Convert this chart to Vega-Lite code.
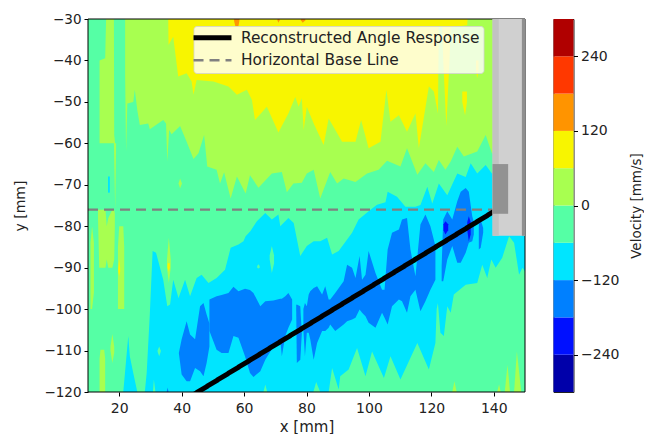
{"$schema":"https://vega.github.io/schema/vega-lite/v6.json","padding":{"left":13,"top":12,"right":0,"bottom":0},"spacing":26.5,"config":{"font":"DejaVu Sans","view":{"stroke":null},"axis":{"grid":false,"domain":false,"tickColor":"#000","tickSize":4,"tickWidth":1,"labelColor":"#222","titleColor":"#222","titleFontWeight":"normal","labelFontSize":13.5,"titleFontSize":14,"labelPadding":3}},
"datasets":{
"contours":[
{"r":"bg","v":"-60","x":10,"y":-30,"y2":-120},{"r":"bg","v":"-60","x":150,"y":-30,"y2":-120},
{"r":"lime1","v":"0","x":13.7,"y":-40,"y2":-60},{"r":"lime1","v":"0","x":15.5,"y":-39.5,"y2":-60},{"r":"lime1","v":"0","x":15.8,"y":-30,"y2":-60},{"r":"lime1","v":"0","x":18.3,"y":-30,"y2":-60},{"r":"lime1","v":"0","x":18.4,"y":-58,"y2":-64},{"r":"lime1","v":"0","x":18.7,"y":-60,"y2":-76},{"r":"lime1","v":"0","x":19,"y":-60,"y2":-61},
{"r":"lime2","v":"0","x":21.9,"y":-30,"y2":-43.9},{"r":"lime2","v":"0","x":22.2,"y":-30,"y2":-62},{"r":"lime2","v":"0","x":22.6,"y":-30,"y2":-50.4},{"r":"lime2","v":"0","x":24.5,"y":-30,"y2":-50},{"r":"lime2","v":"0","x":25,"y":-30,"y2":-47.1},{"r":"lime2","v":"0","x":25.8,"y":-30,"y2":-52},{"r":"lime2","v":"0","x":26.6,"y":-30,"y2":-55.6},{"r":"lime2","v":"0","x":29.3,"y":-30,"y2":-55.2},{"r":"lime2","v":"0","x":29.8,"y":-30,"y2":-56.6},{"r":"lime2","v":"0","x":34.1,"y":-30,"y2":-54.4},{"r":"lime2","v":"0","x":35,"y":-30,"y2":-55.2},{"r":"lime2","v":"0","x":35.4,"y":-30,"y2":-64.4},{"r":"lime2","v":"0","x":36,"y":-30,"y2":-56.8},{"r":"lime2","v":"0","x":36.8,"y":-30,"y2":-57.8},{"r":"lime2","v":"0","x":39.5,"y":-30,"y2":-55.8},{"r":"lime2","v":"0","x":41.6,"y":-30,"y2":-59.6},{"r":"lime2","v":"0","x":43.8,"y":-30,"y2":-63.8},{"r":"lime2","v":"0","x":45.4,"y":-30,"y2":-62.4},{"r":"lime2","v":"0","x":47.2,"y":-30,"y2":-58},{"r":"lime2","v":"0","x":48.2,"y":-30,"y2":-65.6},{"r":"lime2","v":"0","x":51.2,"y":-30,"y2":-66.4},{"r":"lime2","v":"0","x":52.3,"y":-30,"y2":-69.7},{"r":"lime2","v":"0","x":53.6,"y":-30,"y2":-67},{"r":"lime2","v":"0","x":55.7,"y":-30,"y2":-73.3},{"r":"lime2","v":"0","x":57.7,"y":-30,"y2":-68},{"r":"lime2","v":"0","x":60.5,"y":-30,"y2":-72.1},{"r":"lime2","v":"0","x":61.9,"y":-30,"y2":-67.7},{"r":"lime2","v":"0","x":64.6,"y":-30,"y2":-70.7},{"r":"lime2","v":"0","x":68.9,"y":-30,"y2":-67.3},{"r":"lime2","v":"0","x":72.1,"y":-30,"y2":-66.9},{"r":"lime2","v":"0","x":73.7,"y":-30,"y2":-71.8},{"r":"lime2","v":"0","x":75.8,"y":-30,"y2":-69.7},{"r":"lime2","v":"0","x":78.5,"y":-30,"y2":-69.5},{"r":"lime2","v":"0","x":80.1,"y":-30,"y2":-67.3},{"r":"lime2","v":"0","x":82.3,"y":-30,"y2":-66.4},{"r":"lime2","v":"0","x":84.4,"y":-30,"y2":-73.3},{"r":"lime2","v":"0","x":87.6,"y":-30,"y2":-66.9},{"r":"lime2","v":"0","x":89.8,"y":-30,"y2":-69.7},{"r":"lime2","v":"0","x":91.9,"y":-30,"y2":-68.5},{"r":"lime2","v":"0","x":95.7,"y":-30,"y2":-69.3},{"r":"lime2","v":"0","x":99.4,"y":-30,"y2":-67.3},{"r":"lime2","v":"0","x":103.1,"y":-30,"y2":-66.4},{"r":"lime2","v":"0","x":105.8,"y":-30,"y2":-64.2},{"r":"lime2","v":"0","x":110.1,"y":-30,"y2":-65.6},{"r":"lime2","v":"0","x":112.2,"y":-30,"y2":-61.2},{"r":"lime2","v":"0","x":115.5,"y":-30,"y2":-67.6},{"r":"lime2","v":"0","x":118.1,"y":-30,"y2":-64.8},{"r":"lime2","v":"0","x":120.8,"y":-30,"y2":-66.9},{"r":"lime2","v":"0","x":122.4,"y":-30,"y2":-64},{"r":"lime2","v":"0","x":124.5,"y":-30,"y2":-66.4},{"r":"lime2","v":"0","x":126.2,"y":-30,"y2":-64.4},{"r":"lime2","v":"0","x":128.3,"y":-30,"y2":-60.8},{"r":"lime2","v":"0","x":130.4,"y":-30,"y2":-63.2},{"r":"lime2","v":"0","x":134.7,"y":-30,"y2":-62},{"r":"lime2","v":"0","x":137.4,"y":-30,"y2":-58},{"r":"lime2","v":"0","x":139.4,"y":-30,"y2":-62.4},{"r":"lime2","v":"0","x":150,"y":-30,"y2":-65},
{"r":"yel1","v":"60","x":35.7,"y":-30,"y2":-30},{"r":"yel1","v":"60","x":35.8,"y":-30,"y2":-36.3},{"r":"yel1","v":"60","x":37.3,"y":-30,"y2":-34.3},{"r":"yel1","v":"60","x":38.9,"y":-30,"y2":-43.9},{"r":"yel1","v":"60","x":41.6,"y":-30,"y2":-43.1},{"r":"yel1","v":"60","x":43.2,"y":-30,"y2":-45.1},{"r":"yel1","v":"60","x":43.8,"y":-30,"y2":-48.3},{"r":"yel1","v":"60","x":44.8,"y":-30,"y2":-44.7},{"r":"yel1","v":"60","x":50.2,"y":-30,"y2":-45.1},{"r":"yel1","v":"60","x":55,"y":-30,"y2":-46.3},{"r":"yel1","v":"60","x":57.7,"y":-30,"y2":-48.3},{"r":"yel1","v":"60","x":60.9,"y":-30,"y2":-47.1},{"r":"yel1","v":"60","x":62.5,"y":-30,"y2":-49.5},{"r":"yel1","v":"60","x":63.5,"y":-30,"y2":-54.4},{"r":"yel1","v":"60","x":67.3,"y":-30,"y2":-51.2},{"r":"yel1","v":"60","x":71,"y":-30,"y2":-57.4},{"r":"yel1","v":"60","x":74.2,"y":-30,"y2":-52.8},{"r":"yel1","v":"60","x":76.4,"y":-30,"y2":-48.8},{"r":"yel1","v":"60","x":77.5,"y":-30,"y2":-51.2},{"r":"yel1","v":"60","x":78.5,"y":-30,"y2":-49.1},{"r":"yel1","v":"60","x":79.1,"y":-30,"y2":-56.8},{"r":"yel1","v":"60","x":80.1,"y":-30,"y2":-51.2},{"r":"yel1","v":"60","x":82.3,"y":-30,"y2":-55.2},{"r":"yel1","v":"60","x":85.5,"y":-30,"y2":-60.4},{"r":"yel1","v":"60","x":87.1,"y":-30,"y2":-54},{"r":"yel1","v":"60","x":91.4,"y":-30,"y2":-59.6},{"r":"yel1","v":"60","x":95.7,"y":-30,"y2":-59.6},{"r":"yel1","v":"60","x":97.5,"y":-30,"y2":-54.4},{"r":"yel1","v":"60","x":99.9,"y":-30,"y2":-61.2},{"r":"yel1","v":"60","x":103.7,"y":-30,"y2":-59.6},{"r":"yel1","v":"60","x":105.6,"y":-30,"y2":-47.1},{"r":"yel1","v":"60","x":106.9,"y":-30,"y2":-54.8},{"r":"yel1","v":"60","x":109.6,"y":-30,"y2":-53.2},{"r":"yel1","v":"60","x":112.2,"y":-30,"y2":-57.2},{"r":"yel1","v":"60","x":114.9,"y":-30,"y2":-52.8},{"r":"yel1","v":"60","x":116,"y":-30,"y2":-61.2},{"r":"yel1","v":"60","x":119.2,"y":-30,"y2":-46.3},{"r":"yel1","v":"60","x":120.8,"y":-30,"y2":-47.5},{"r":"yel1","v":"60","x":122.1,"y":-30,"y2":-52.8},{"r":"yel1","v":"60","x":122.4,"y":-30,"y2":-32},{"r":"yel1","v":"60","x":123.5,"y":-30,"y2":-32},{"r":"yel1","v":"60","x":123.8,"y":-30,"y2":-40},{"r":"yel1","v":"60","x":124.8,"y":-30,"y2":-55.9},{"r":"yel1","v":"60","x":125.8,"y":-30,"y2":-40},{"r":"yel1","v":"60","x":126.2,"y":-30,"y2":-32},{"r":"yel1","v":"60","x":131.5,"y":-30,"y2":-31.5},{"r":"yel1","v":"60","x":131.6,"y":-30,"y2":-30},
{"r":"yel2","v":"60","x":129.9,"y":-47.5,"y2":-50},{"r":"yel2","v":"60","x":130.8,"y":-47.5,"y2":-53.2},{"r":"yel2","v":"60","x":131.4,"y":-47.5,"y2":-50},
{"r":"yel3","v":"60","x":134.3,"y":-40,"y2":-42.5},{"r":"yel3","v":"60","x":134.7,"y":-40,"y2":-44.3},{"r":"yel3","v":"60","x":135.1,"y":-40,"y2":-42.5},
{"r":"or1","v":"120","x":56.8,"y":-30,"y2":-30.5},{"r":"or1","v":"120","x":57.2,"y":-30,"y2":-31.7},{"r":"or1","v":"120","x":58.2,"y":-30,"y2":-31.7},{"r":"or1","v":"120","x":58.5,"y":-30,"y2":-30.5},
{"r":"or2","v":"120","x":70.7,"y":-30,"y2":-30.3},{"r":"or2","v":"120","x":71,"y":-30,"y2":-30.9},{"r":"or2","v":"120","x":71.4,"y":-30,"y2":-30.3},
{"r":"or3","v":"120","x":78.2,"y":-30,"y2":-30.3},{"r":"or3","v":"120","x":78.8,"y":-30,"y2":-30.9},{"r":"or3","v":"120","x":79.6,"y":-30,"y2":-30.3},
{"r":"c0","v":"-120","x":16.4,"y":-68,"y2":-71.9},{"r":"c0","v":"-120","x":17,"y":-68,"y2":-71.9},
{"r":"g0","v":"0","x":39,"y":-69.7,"y2":-69.7},{"r":"g0","v":"0","x":39.5,"y":-68.5,"y2":-70.9},{"r":"g0","v":"0","x":40.1,"y":-69.7,"y2":-69.7},
{"r":"c1","v":"-120","x":21.3,"y":-120,"y2":-120},{"r":"c1","v":"-120","x":22.9,"y":-106.5,"y2":-120},{"r":"c1","v":"-120","x":23.4,"y":-111.4,"y2":-120},{"r":"c1","v":"-120","x":24.5,"y":-115.4,"y2":-120},{"r":"c1","v":"-120","x":25.8,"y":-120,"y2":-120},
{"r":"c2","v":"-120","x":28.2,"y":-120,"y2":-120},{"r":"c2","v":"-120","x":28.8,"y":-115.4,"y2":-120},{"r":"c2","v":"-120","x":29.8,"y":-101.3,"y2":-120},{"r":"c2","v":"-120","x":30.7,"y":-86,"y2":-120},{"r":"c2","v":"-120","x":31.8,"y":-86.4,"y2":-120},{"r":"c2","v":"-120","x":34.1,"y":-92.9,"y2":-120},{"r":"c2","v":"-120","x":35.4,"y":-99.3,"y2":-120},{"r":"c2","v":"-120","x":36.3,"y":-98.9,"y2":-120},{"r":"c2","v":"-120","x":37.3,"y":-92.9,"y2":-120},{"r":"c2","v":"-120","x":39,"y":-97.3,"y2":-120},{"r":"c2","v":"-120","x":41.1,"y":-92.9,"y2":-120},{"r":"c2","v":"-120","x":42.7,"y":-96.9,"y2":-120},{"r":"c2","v":"-120","x":44.8,"y":-92.5,"y2":-120},{"r":"c2","v":"-120","x":46.4,"y":-91.7,"y2":-120},{"r":"c2","v":"-120","x":48.6,"y":-93.7,"y2":-120},{"r":"c2","v":"-120","x":51.2,"y":-92.5,"y2":-120},{"r":"c2","v":"-120","x":53.9,"y":-90.5,"y2":-120},{"r":"c2","v":"-120","x":55.7,"y":-85.2,"y2":-120},{"r":"c2","v":"-120","x":58.2,"y":-84.4,"y2":-120},{"r":"c2","v":"-120","x":59.8,"y":-83.6,"y2":-120},{"r":"c2","v":"-120","x":60.5,"y":-82.4,"y2":-120},{"r":"c2","v":"-120","x":62,"y":-81.2,"y2":-120},{"r":"c2","v":"-120","x":64.1,"y":-78.8,"y2":-120},{"r":"c2","v":"-120","x":66.8,"y":-76.8,"y2":-120},{"r":"c2","v":"-120","x":68.9,"y":-78.4,"y2":-120},{"r":"c2","v":"-120","x":71,"y":-77.2,"y2":-120},{"r":"c2","v":"-120","x":71.6,"y":-80,"y2":-120},{"r":"c2","v":"-120","x":74.2,"y":-78,"y2":-120},{"r":"c2","v":"-120","x":75.9,"y":-79.2,"y2":-120},{"r":"c2","v":"-120","x":78,"y":-87.2,"y2":-120},{"r":"c2","v":"-120","x":80.1,"y":-84.8,"y2":-120},{"r":"c2","v":"-120","x":82.3,"y":-83.6,"y2":-120},{"r":"c2","v":"-120","x":84.4,"y":-83.6,"y2":-120},{"r":"c2","v":"-120","x":86.6,"y":-82.8,"y2":-120},{"r":"c2","v":"-120","x":88.2,"y":-86.8,"y2":-120},{"r":"c2","v":"-120","x":90.3,"y":-86,"y2":-120},{"r":"c2","v":"-120","x":94.6,"y":-81.6,"y2":-120},{"r":"c2","v":"-120","x":96.7,"y":-78.4,"y2":-120},{"r":"c2","v":"-120","x":100.5,"y":-76,"y2":-120},{"r":"c2","v":"-120","x":102.6,"y":-74.8,"y2":-120},{"r":"c2","v":"-120","x":105.3,"y":-74.2,"y2":-120},{"r":"c2","v":"-120","x":106,"y":-71.7,"y2":-120},{"r":"c2","v":"-120","x":109,"y":-72.9,"y2":-120},{"r":"c2","v":"-120","x":111.7,"y":-75.3,"y2":-120},{"r":"c2","v":"-120","x":114.9,"y":-75.3,"y2":-120},{"r":"c2","v":"-120","x":116.5,"y":-74.9,"y2":-120},{"r":"c2","v":"-120","x":118.7,"y":-70.5,"y2":-120},{"r":"c2","v":"-120","x":120.3,"y":-74.5,"y2":-120},{"r":"c2","v":"-120","x":122.4,"y":-69.7,"y2":-120},{"r":"c2","v":"-120","x":125.1,"y":-72.5,"y2":-120},{"r":"c2","v":"-120","x":128.3,"y":-67.3,"y2":-120},{"r":"c2","v":"-120","x":131,"y":-68.1,"y2":-120},{"r":"c2","v":"-120","x":132.6,"y":-64.8,"y2":-120},{"r":"c2","v":"-120","x":134.7,"y":-67.3,"y2":-120},{"r":"c2","v":"-120","x":137.4,"y":-65.2,"y2":-120},{"r":"c2","v":"-120","x":139.4,"y":-67.3,"y2":-120},{"r":"c2","v":"-120","x":150,"y":-67,"y2":-120},
{"r":"b1","v":"-180","x":39.1,"y":-110.6,"y2":-110.6},{"r":"b1","v":"-180","x":40,"y":-107.3,"y2":-115.8},{"r":"b1","v":"-180","x":41.6,"y":-102.9,"y2":-117.4},{"r":"b1","v":"-180","x":42.7,"y":-106.1,"y2":-117.4},{"r":"b1","v":"-180","x":44.3,"y":-107.3,"y2":-114.2},{"r":"b1","v":"-180","x":45.9,"y":-99.3,"y2":-115},{"r":"b1","v":"-180","x":47,"y":-98.5,"y2":-116.2},{"r":"b1","v":"-180","x":48,"y":-101.3,"y2":-113},{"r":"b1","v":"-180","x":48.9,"y":-103.5,"y2":-109},
{"r":"b2","v":"-180","x":48.9,"y":-97.7,"y2":-105.3},{"r":"b2","v":"-180","x":51.2,"y":-96.9,"y2":-109.8},{"r":"b2","v":"-180","x":52.8,"y":-96.6,"y2":-110.6},{"r":"b2","v":"-180","x":55,"y":-96.1,"y2":-110.6},{"r":"b2","v":"-180","x":56.6,"y":-94.6,"y2":-106.5},{"r":"b2","v":"-180","x":58.2,"y":-95.7,"y2":-106.9},{"r":"b2","v":"-180","x":60.3,"y":-95.1,"y2":-111.4},{"r":"b2","v":"-180","x":61.9,"y":-95.4,"y2":-115.4},{"r":"b2","v":"-180","x":63,"y":-96.1,"y2":-116.4},{"r":"b2","v":"-180","x":65.2,"y":-99.3,"y2":-115},{"r":"b2","v":"-180","x":66.8,"y":-98.1,"y2":-112.2},{"r":"b2","v":"-180","x":69.4,"y":-97.9,"y2":-109},{"r":"b2","v":"-180","x":71.6,"y":-97.5,"y2":-107.3},{"r":"b2","v":"-180","x":72.1,"y":-97.5,"y2":-111.4},{"r":"b2","v":"-180","x":73.2,"y":-96.9,"y2":-106.5},{"r":"b2","v":"-180","x":74.2,"y":-96.1,"y2":-104.5},{"r":"b2","v":"-180","x":75.4,"y":-97.7,"y2":-102.5},
{"r":"b3","v":"-180","x":76.7,"y":-99,"y2":-100},{"r":"b3","v":"-180","x":76.9,"y":-98.9,"y2":-113},{"r":"b3","v":"-180","x":78,"y":-99.3,"y2":-112.2},{"r":"b3","v":"-180","x":78.5,"y":-105.7,"y2":-106},
{"r":"b4","v":"-180","x":79,"y":-100,"y2":-105},{"r":"b4","v":"-180","x":79.5,"y":-98.5,"y2":-111.4},{"r":"b4","v":"-180","x":80.1,"y":-99.3,"y2":-105.7},{"r":"b4","v":"-180","x":80.7,"y":-96.5,"y2":-105.7},{"r":"b4","v":"-180","x":81.2,"y":-95.7,"y2":-107.3},{"r":"b4","v":"-180","x":82.3,"y":-94.9,"y2":-112.2},{"r":"b4","v":"-180","x":83.4,"y":-94.5,"y2":-108.2},{"r":"b4","v":"-180","x":85,"y":-96.5,"y2":-105.3},{"r":"b4","v":"-180","x":86,"y":-94.5,"y2":-105.3},{"r":"b4","v":"-180","x":87.1,"y":-97.7,"y2":-104.5},{"r":"b4","v":"-180","x":87.6,"y":-97.7,"y2":-103.7},{"r":"b4","v":"-180","x":89.2,"y":-96.1,"y2":-105.3},{"r":"b4","v":"-180","x":91.9,"y":-93.3,"y2":-103.7},{"r":"b4","v":"-180","x":93,"y":-89.3,"y2":-102.9},{"r":"b4","v":"-180","x":94.6,"y":-90,"y2":-102.5},{"r":"b4","v":"-180","x":95.7,"y":-92.5,"y2":-102.1},{"r":"b4","v":"-180","x":97,"y":-87.2,"y2":-100.1},{"r":"b4","v":"-180","x":97.8,"y":-92.9,"y2":-100.9},{"r":"b4","v":"-180","x":98.9,"y":-91.7,"y2":-101.7},{"r":"b4","v":"-180","x":99.9,"y":-86,"y2":-103.3},{"r":"b4","v":"-180","x":102.1,"y":-91.3,"y2":-104.5},{"r":"b4","v":"-180","x":104.2,"y":-95.3,"y2":-100.9},{"r":"b4","v":"-180","x":105,"y":-95.3,"y2":-102.1},{"r":"b4","v":"-180","x":106,"y":-85.6,"y2":-103.7},{"r":"b4","v":"-180","x":107.4,"y":-81.6,"y2":-99.3},{"r":"b4","v":"-180","x":109.6,"y":-80.8,"y2":-97.7},{"r":"b4","v":"-180","x":110.6,"y":-78.4,"y2":-98.1},{"r":"b4","v":"-180","x":112.2,"y":-78,"y2":-100.9},{"r":"b4","v":"-180","x":113.3,"y":-85.6,"y2":-96.9},{"r":"b4","v":"-180","x":114.9,"y":-92.1,"y2":-95.3},{"r":"b4","v":"-180","x":116.5,"y":-79.6,"y2":-100.5},{"r":"b4","v":"-180","x":118.1,"y":-77.2,"y2":-98.1},{"r":"b4","v":"-180","x":119.7,"y":-80,"y2":-95.3},{"r":"b4","v":"-180","x":121.3,"y":-84.8,"y2":-92.9},
{"r":"b5","v":"-180","x":123.3,"y":-89.6,"y2":-93.3},{"r":"b5","v":"-180","x":123.8,"y":-78.4,"y2":-93.3},{"r":"b5","v":"-180","x":125.1,"y":-76.4,"y2":-88},{"r":"b5","v":"-180","x":126.7,"y":-78.4,"y2":-84.8},{"r":"b5","v":"-180","x":128.3,"y":-74,"y2":-88.8},{"r":"b5","v":"-180","x":129.4,"y":-71.7,"y2":-88.8},{"r":"b5","v":"-180","x":131,"y":-70.8,"y2":-86.4},{"r":"b5","v":"-180","x":132,"y":-71.7,"y2":-84},{"r":"b5","v":"-180","x":133.1,"y":-77.6,"y2":-83.6},{"r":"b5","v":"-180","x":133.6,"y":-79,"y2":-82},
{"r":"b6","v":"-180","x":135.2,"y":-79.2,"y2":-85.6},{"r":"b6","v":"-180","x":135.8,"y":-78.4,"y2":-85.2},{"r":"b6","v":"-180","x":136.6,"y":-80.4,"y2":-81.6},
{"r":"b7","v":"-180","x":35.2,"y":-120,"y2":-120},{"r":"b7","v":"-180","x":35.5,"y":-118.9,"y2":-120},{"r":"b7","v":"-180","x":35.8,"y":-120,"y2":-120},
{"r":"d1","v":"-240","x":123.9,"y":-79.5,"y2":-81},{"r":"d1","v":"-240","x":124.5,"y":-78.8,"y2":-82},{"r":"d1","v":"-240","x":125.4,"y":-79.5,"y2":-81},
{"r":"d2","v":"-240","x":131.5,"y":-79,"y2":-81},{"r":"d2","v":"-240","x":132,"y":-77.6,"y2":-83.6},{"r":"d2","v":"-240","x":132.6,"y":-79,"y2":-82},
{"r":"gl","v":"-60","x":82.2,"y":-120,"y2":-120},{"r":"gl","v":"-60","x":83.1,"y":-117.6,"y2":-120},{"r":"gl","v":"-60","x":84.4,"y":-120,"y2":-120},{"r":"gl","v":"-60","x":87.1,"y":-120,"y2":-120},{"r":"gl","v":"-60","x":88.2,"y":-114.2,"y2":-120},{"r":"gl","v":"-60","x":90.3,"y":-119.4,"y2":-120},{"r":"gl","v":"-60","x":90.8,"y":-116.2,"y2":-120},{"r":"gl","v":"-60","x":93.5,"y":-114.6,"y2":-120},{"r":"gl","v":"-60","x":96.2,"y":-109.4,"y2":-120},{"r":"gl","v":"-60","x":98.9,"y":-116.2,"y2":-120},{"r":"gl","v":"-60","x":101,"y":-110.2,"y2":-120},{"r":"gl","v":"-60","x":104.8,"y":-116.6,"y2":-120},{"r":"gl","v":"-60","x":106.9,"y":-111.4,"y2":-120},{"r":"gl","v":"-60","x":110.1,"y":-117,"y2":-120},{"r":"gl","v":"-60","x":115.5,"y":-108.2,"y2":-120},{"r":"gl","v":"-60","x":119.2,"y":-114.6,"y2":-120},{"r":"gl","v":"-60","x":121.3,"y":-108.2,"y2":-120},{"r":"gl","v":"-60","x":121.7,"y":-100,"y2":-120},{"r":"gl","v":"-60","x":122.1,"y":-98.5,"y2":-120},{"r":"gl","v":"-60","x":122.9,"y":-105.7,"y2":-120},{"r":"gl","v":"-60","x":124,"y":-106.5,"y2":-120},{"r":"gl","v":"-60","x":125.1,"y":-99.3,"y2":-120},{"r":"gl","v":"-60","x":126.2,"y":-100.9,"y2":-120},{"r":"gl","v":"-60","x":127.2,"y":-96.5,"y2":-120},{"r":"gl","v":"-60","x":131,"y":-94.1,"y2":-120},{"r":"gl","v":"-60","x":134.7,"y":-93.7,"y2":-120},{"r":"gl","v":"-60","x":136.3,"y":-89.3,"y2":-120},{"r":"gl","v":"-60","x":137.9,"y":-92.5,"y2":-120},{"r":"gl","v":"-60","x":139.2,"y":-88,"y2":-120},{"r":"gl","v":"-60","x":140.6,"y":-90,"y2":-120},{"r":"gl","v":"-60","x":142.7,"y":-87.6,"y2":-120},{"r":"gl","v":"-60","x":144.9,"y":-82.4,"y2":-120},{"r":"gl","v":"-60","x":146.5,"y":-84,"y2":-120},{"r":"gl","v":"-60","x":148.1,"y":-91.7,"y2":-120},{"r":"gl","v":"-60","x":149.2,"y":-90,"y2":-120},{"r":"gl","v":"-60","x":150,"y":-90.9,"y2":-120},
{"r":"gi1","v":"-60","x":68.2,"y":-87,"y2":-88},{"r":"gi1","v":"-60","x":68.9,"y":-84.8,"y2":-91.3},{"r":"gi1","v":"-60","x":69.6,"y":-87,"y2":-89},
{"r":"gi2","v":"-60","x":64.2,"y":-89.6,"y2":-90},{"r":"gi2","v":"-60","x":64.6,"y":-89.2,"y2":-90.2},{"r":"gi2","v":"-60","x":65,"y":-89.6,"y2":-90},
{"r":"gi3","v":"-60","x":32.3,"y":-110,"y2":-110.3},{"r":"gi3","v":"-60","x":32.8,"y":-109,"y2":-111.4},{"r":"gi3","v":"-60","x":33.3,"y":-110,"y2":-110.3},
{"r":"gi4","v":"-60","x":30.8,"y":-120,"y2":-120},{"r":"gi4","v":"-60","x":31.1,"y":-117,"y2":-120},{"r":"gi4","v":"-60","x":31.6,"y":-120,"y2":-120},
{"r":"gi5","v":"-60","x":66.2,"y":-120,"y2":-120},{"r":"gi5","v":"-60","x":66.8,"y":-118.2,"y2":-120},{"r":"gi5","v":"-60","x":67.4,"y":-120,"y2":-120},
{"r":"l1","v":"0","x":13.2,"y":-76,"y2":-78},{"r":"l1","v":"0","x":13.6,"y":-76,"y2":-90},{"r":"l1","v":"0","x":15.6,"y":-76,"y2":-90},{"r":"l1","v":"0","x":16,"y":-80,"y2":-88},{"r":"l1","v":"0","x":16.5,"y":-78,"y2":-90},{"r":"l1","v":"0","x":17.8,"y":-76,"y2":-90},{"r":"l1","v":"0","x":18.4,"y":-76,"y2":-88},{"r":"l1","v":"0","x":18.6,"y":-77,"y2":-80},
{"r":"l2","v":"0","x":10.8,"y":-84,"y2":-100},{"r":"l2","v":"0","x":11.3,"y":-80,"y2":-100},{"r":"l2","v":"0","x":11.9,"y":-84,"y2":-96},
{"r":"l3","v":"0","x":19.6,"y":-85,"y2":-100},{"r":"l3","v":"0","x":20,"y":-80,"y2":-100},{"r":"l3","v":"0","x":21.3,"y":-80,"y2":-100},{"r":"l3","v":"0","x":21.6,"y":-85,"y2":-100},
{"r":"y3","v":"60","x":19.7,"y":-90,"y2":-91},{"r":"y3","v":"60","x":20,"y":-88,"y2":-92},{"r":"y3","v":"60","x":20.3,"y":-90,"y2":-91},
{"r":"l4","v":"0","x":35.3,"y":-88,"y2":-90},{"r":"l4","v":"0","x":35.9,"y":-82.8,"y2":-93.7},{"r":"l4","v":"0","x":36.5,"y":-88,"y2":-90},
{"r":"y4","v":"60","x":35.5,"y":-89,"y2":-90},{"r":"y4","v":"60","x":35.9,"y":-88.9,"y2":-91},{"r":"y4","v":"60","x":36.2,"y":-89,"y2":-90},
{"r":"l5","v":"0","x":17.2,"y":-109,"y2":-110},{"r":"l5","v":"0","x":17.8,"y":-106,"y2":-113},{"r":"l5","v":"0","x":18.4,"y":-109,"y2":-110.5},
{"r":"l6","v":"0","x":13.7,"y":-112,"y2":-120},{"r":"l6","v":"0","x":14,"y":-109.8,"y2":-120},{"r":"l6","v":"0","x":15.2,"y":-109.8,"y2":-120},{"r":"l6","v":"0","x":15.5,"y":-112,"y2":-120},
{"r":"l7","v":"0","x":126.7,"y":-120,"y2":-120},{"r":"l7","v":"0","x":127.4,"y":-117.4,"y2":-120},{"r":"l7","v":"0","x":128.1,"y":-120,"y2":-120},
{"r":"l8","v":"0","x":141.1,"y":-120,"y2":-120},{"r":"l8","v":"0","x":141.7,"y":-118.2,"y2":-120},{"r":"l8","v":"0","x":142.2,"y":-120,"y2":-120},
{"r":"l9","v":"0","x":143.5,"y":-120,"y2":-120},{"r":"l9","v":"0","x":144.4,"y":-113.4,"y2":-120},{"r":"l9","v":"0","x":145.2,"y":-120,"y2":-120},
{"r":"l10","v":"0","x":146.5,"y":-120,"y2":-120},{"r":"l10","v":"0","x":147.4,"y":-110.2,"y2":-120},{"r":"l10","v":"0","x":148.8,"y":-120,"y2":-120}
],
"lines":[
{"s":"Horizontal Base Line","x":10,"y":-76},{"s":"Horizontal Base Line","x":144,"y":-76},
{"s":"Reconstructed Angle Response","x":43,"y":-121},{"s":"Reconstructed Angle Response","x":141,"y":-76}
],
"frame":[{"x":10,"x2":150,"y":-30,"y2":-120}],
"parts":[
{"p":"body","x":139.6,"x2":150,"y":-30,"y2":-82.3},
{"p":"strip","x":139.6,"x2":141.6,"y":-30,"y2":-82.3},
{"p":"edge","x":149,"x2":150,"y":-30,"y2":-82.3},
{"p":"block","x":139.6,"x2":144.6,"y":-65,"y2":-77}
],
"bar":[
{"v":"-300","lo":-300,"hi":-240},{"v":"-240","lo":-240,"hi":-180},{"v":"-180","lo":-180,"hi":-120},{"v":"-120","lo":-120,"hi":-60},{"v":"-60","lo":-60,"hi":0},{"v":"0","lo":0,"hi":60},{"v":"60","lo":60,"hi":120},{"v":"120","lo":120,"hi":180},{"v":"180","lo":180,"hi":240},{"v":"240","lo":240,"hi":300}
]},
"hconcat":[
{"width":437,"height":373,
"layer":[
{"data":{"name":"contours"},"mark":{"type":"area","orient":"vertical","clip":true},
"encoding":{
"x":{"field":"x","type":"quantitative","scale":{"domain":[10,150],"nice":false,"zero":false},"axis":{"values":[20,40,60,80,100,120,140],"title":"x [mm]","labelFontSize":14,"titleFontSize":15,"titlePadding":4,"labelPadding":5}},
"y":{"field":"y","type":"quantitative","scale":{"domain":[-120,-30],"nice":false,"zero":false},"axis":{"values":[-120,-110,-100,-90,-80,-70,-60,-50,-40,-30],"title":"y [mm]","titlePadding":16}},
"y2":{"field":"y2"},
"fill":{"field":"v","type":"nominal","legend":null,"scale":{"domain":["-300","-240","-180","-120","-60","0","60","120","180","240"],"range":["#0000aa","#0010ff","#0080ff","#00e5ff","#55ffa5","#a8ff50","#f8f500","#ff9400","#ff3800","#b00000"]}},
"detail":{"field":"r"}}},
{"data":{"name":"lines"},"mark":{"type":"line","clip":true},
"encoding":{
"x":{"field":"x","type":"quantitative"},
"y":{"field":"y","type":"quantitative"},
"stroke":{"field":"s","type":"nominal","scale":{"domain":["Reconstructed Angle Response","Horizontal Base Line"],"range":["#000000","#808080"]},
"legend":{"title":null,"orient":"none","legendX":105.5,"legendY":7,"symbolType":"M-6,0H6","symbolSize":40,"labelFontSize":15.4,"labelColor":"#222","fillColor":"rgba(255,255,255,0.8)","strokeColor":"rgba(210,210,210,0.8)","cornerRadius":3,"padding":4,"rowPadding":4.5,"labelOffset":28,"labelLimit":300,"encoding":{"symbols":{"x":{"value":15}}}}},
"strokeDash":{"field":"s","type":"nominal","scale":{"domain":["Reconstructed Angle Response","Horizontal Base Line"],"range":[[1,0],[10,6]]}},
"strokeWidth":{"field":"s","type":"nominal","scale":{"domain":["Reconstructed Angle Response","Horizontal Base Line"],"range":[5,2.4]}}}},
{"data":{"name":"frame"},"mark":{"type":"rect","fillOpacity":0,"stroke":"#000","strokeWidth":1},
"encoding":{"x":{"field":"x","type":"quantitative"},"x2":{"field":"x2"},"y":{"field":"y","type":"quantitative"},"y2":{"field":"y2"}}},
{"data":{"name":"parts"},"mark":{"type":"rect"},
"encoding":{"x":{"field":"x","type":"quantitative"},"x2":{"field":"x2"},"y":{"field":"y","type":"quantitative"},"y2":{"field":"y2"},
"fill":{"field":"p","type":"nominal","legend":null,"scale":{"domain":["body","strip","edge","block"],"range":["#d0d0d0","#c2c2c2","#8f8f8f","#929292"]}}}}
],
"resolve":{"scale":{"fill":"independent"}}},
{"width":20,"height":373,"data":{"name":"bar"},"view":{"stroke":"#222"},"mark":{"type":"rect"},
"encoding":{
"y":{"field":"lo","type":"quantitative","scale":{"domain":[-300,300],"nice":false,"zero":false},"axis":{"orient":"right","values":[-240,-120,0,120,240],"title":"Velocity [mm/s]","titleAngle":-90,"titleFontSize":13.5,"labelFontSize":14,"titlePadding":25,"titleBaseline":"bottom"}},
"y2":{"field":"hi"},
"fill":{"field":"v","type":"nominal","legend":null,"scale":{"domain":["-300","-240","-180","-120","-60","0","60","120","180","240"],"range":["#0000aa","#0010ff","#0080ff","#00e5ff","#55ffa5","#a8ff50","#f8f500","#ff9400","#ff3800","#b00000"]}}}}
]}
